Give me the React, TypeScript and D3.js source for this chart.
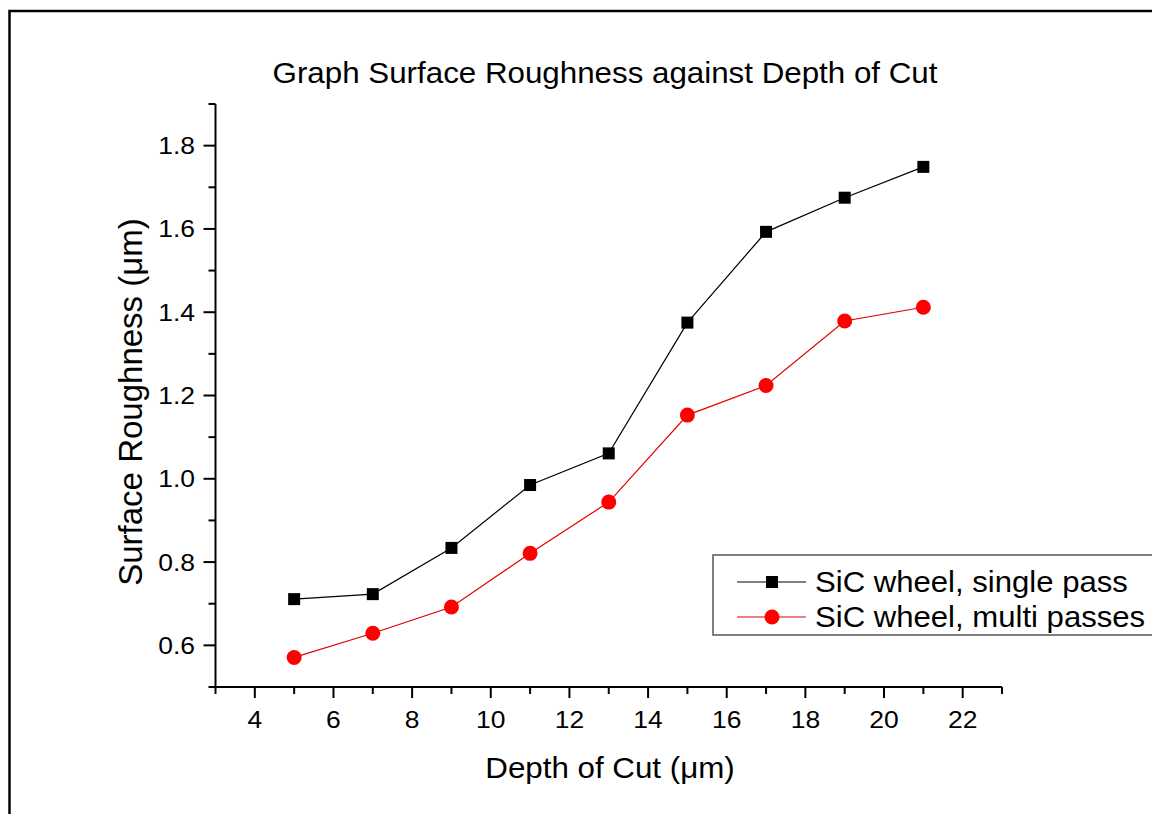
import React from "react";
import * as d3 from "d3";

const depth = [5, 7, 9, 11, 13, 15, 17, 19, 21];
const singlePass = [0.711, 0.723, 0.834, 0.985, 1.061, 1.375, 1.593, 1.675, 1.749];
const multiPass = [0.571, 0.629, 0.692, 0.821, 0.944, 1.153, 1.224, 1.379, 1.412];
const xMajorTicks = [4, 6, 8, 10, 12, 14, 16, 18, 20, 22];
const xMinorTicks = [3, 5, 7, 9, 11, 13, 15, 17, 19, 21, 23];
const yMajorTicks = [0.6, 0.8, 1.0, 1.2, 1.4, 1.6, 1.8];
const yMinorTicks = [0.5, 0.7, 0.9, 1.1, 1.3, 1.5, 1.7, 1.9];
const seriesNames = ["SiC wheel, single pass", "SiC wheel, multi passes"];

const FONT = "'Liberation Sans', Arial, sans-serif";
const SX = 1.08;

export default function App() {
  const x = d3.scaleLinear().domain([3, 23]).range([215.5, 1002]);
  const y = d3.scaleLinear().domain([0.5, 1.9]).range([687, 104]);
  const line = d3
    .line<number>()
    .x((_, i) => x(depth[i]))
    .y((v) => y(v));

  const st = (tx: number, ty: number) => `translate(${tx},${ty}) scale(${SX},1)`;

  return (
    <svg
      width={1152}
      height={814}
      style={{ position: "absolute", left: 0, top: 0, display: "block", background: "#fff" }}
      fontFamily={FONT}
    >
      <rect x={0} y={0} width={1152} height={814} fill="#fff" />
      <rect x={9.5} y={11} width={1160} height={820} fill="none" stroke="#000" strokeWidth={2.5} />

      <text transform={st(605, 83)} textAnchor="middle" fontSize={29} fill="#000">
        Graph Surface Roughness against Depth of Cut
      </text>

      {/* axes */}
      <line x1={x(3)} x2={x(23)} y1={y(0.5)} y2={y(0.5)} stroke="#000" strokeWidth={2} />
      <line x1={x(3)} x2={x(3)} y1={y(0.5)} y2={y(1.9)} stroke="#000" strokeWidth={2} />

      {xMajorTicks.map((t) => (
        <g key={"xM" + t}>
          <line x1={x(t)} x2={x(t)} y1={y(0.5)} y2={y(0.5) + 11} stroke="#000" strokeWidth={2} />
          <text transform={st(x(t), 728)} textAnchor="middle" fontSize={24.5} fill="#000">
            {t}
          </text>
        </g>
      ))}
      {xMinorTicks.map((t) => (
        <line key={"xm" + t} x1={x(t)} x2={x(t)} y1={y(0.5)} y2={y(0.5) + 7} stroke="#000" strokeWidth={2} />
      ))}
      {yMajorTicks.map((t) => (
        <g key={"yM" + t}>
          <line x1={x(3) - 12} x2={x(3)} y1={y(t)} y2={y(t)} stroke="#000" strokeWidth={2} />
          <text transform={st(195, y(t) + 8.5)} textAnchor="end" fontSize={24.5} fill="#000">
            {t.toFixed(1)}
          </text>
        </g>
      ))}
      {yMinorTicks.map((t) => (
        <line key={"ym" + t} x1={x(3) - 7} x2={x(3)} y1={y(t)} y2={y(t)} stroke="#000" strokeWidth={2} />
      ))}

      <text transform={`translate(610,778) scale(${SX},1)`} textAnchor="middle" fontSize={29} fill="#000">
        Depth of Cut (μm)
      </text>
      <text transform={`translate(142,402) rotate(-90)`} textAnchor="middle" fontSize={33} fill="#000">
        Surface Roughness (μm)
      </text>

      {/* series */}
      <path d={line(singlePass) || ""} fill="none" stroke="#000" strokeWidth={1.2} />
      <path d={line(multiPass) || ""} fill="none" stroke="#e00000" strokeWidth={1.2} />
      {singlePass.map((v, i) => (
        <rect key={"s" + i} x={x(depth[i]) - 6} y={y(v) - 6} width={12} height={12} fill="#000" />
      ))}
      {multiPass.map((v, i) => (
        <circle key={"m" + i} cx={x(depth[i])} cy={y(v)} r={7.5} fill="#ff0000" />
      ))}

      {/* legend */}
      <rect x={713} y={555} width={460} height={80} fill="#fff" stroke="#555" strokeWidth={1.5} />
      <line x1={737} x2={806} y1={582} y2={582} stroke="#000" strokeWidth={1.2} />
      <rect x={772 - 6} y={582 - 6} width={12} height={12} fill="#000" />
      <text transform={st(815, 592)} fontSize={28.8} fill="#000">
        {seriesNames[0]}
      </text>
      <line x1={737} x2={806} y1={617} y2={617} stroke="#e00000" strokeWidth={1.2} />
      <circle cx={772} cy={617} r={7.5} fill="#ff0000" />
      <text transform={st(815, 627)} fontSize={28.8} fill="#000">
        {seriesNames[1]}
      </text>
    </svg>
  );
}
